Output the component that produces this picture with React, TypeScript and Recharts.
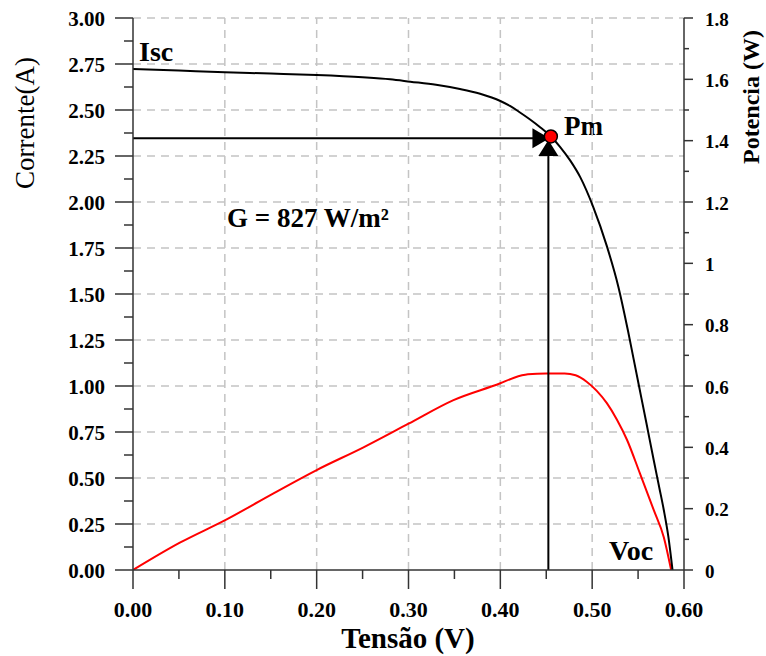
import { LineChart, Line, XAxis, YAxis, ReferenceLine, ReferenceDot } from "recharts";

const FONT = '"Liberation Serif", "Times New Roman", serif';
const AXIS = "#333";
const GRID = "#c4c4c4";

// curva I-V (corrente em A)
const ivCurve = [
  { v: 0, i: 2.723 },
  { v: 0.05, i: 2.714 },
  { v: 0.1, i: 2.705 },
  { v: 0.15, i: 2.698 },
  { v: 0.2, i: 2.69 },
  { v: 0.25, i: 2.678 },
  { v: 0.28, i: 2.667 },
  { v: 0.302, i: 2.654 },
  { v: 0.33, i: 2.637 },
  { v: 0.356, i: 2.614 },
  { v: 0.378, i: 2.588 },
  { v: 0.4, i: 2.549 },
  { v: 0.4105, i: 2.522 },
  { v: 0.421, i: 2.488 },
  { v: 0.432, i: 2.45 },
  { v: 0.443, i: 2.408 },
  { v: 0.455, i: 2.356 },
  { v: 0.465, i: 2.3 },
  { v: 0.476, i: 2.226 },
  { v: 0.487, i: 2.135 },
  { v: 0.501, i: 1.975 },
  { v: 0.516, i: 1.76 },
  { v: 0.5285, i: 1.54 },
  { v: 0.539, i: 1.3 },
  { v: 0.545, i: 1.15 },
  { v: 0.551, i: 1.0 },
  { v: 0.559, i: 0.8 },
  { v: 0.567, i: 0.598 },
  { v: 0.573, i: 0.45 },
  { v: 0.578, i: 0.326 },
  { v: 0.583, i: 0.18 },
  { v: 0.5875, i: 0 },
];

// curva de potencia (W, eixo direito)
const powerCurve = [
  { v: 0, p: 0 },
  { v: 0.051, p: 0.089 },
  { v: 0.102, p: 0.165 },
  { v: 0.153, p: 0.25 },
  { v: 0.2, p: 0.326 },
  { v: 0.251, p: 0.4 },
  { v: 0.3, p: 0.477 },
  { v: 0.349, p: 0.554 },
  { v: 0.4, p: 0.609 },
  { v: 0.415, p: 0.627 },
  { v: 0.43, p: 0.638 },
  { v: 0.45, p: 0.641 },
  { v: 0.47, p: 0.641 },
  { v: 0.482, p: 0.635 },
  { v: 0.494, p: 0.614 },
  { v: 0.505, p: 0.584 },
  { v: 0.516, p: 0.544 },
  { v: 0.527, p: 0.49 },
  { v: 0.538, p: 0.424 },
  { v: 0.552, p: 0.315 },
  { v: 0.567, p: 0.196 },
  { v: 0.578, p: 0.107 },
  { v: 0.586, p: 0 },
];

// ponto de maxima potencia
const pmV = 0.455;
const pmI = 2.356;
const pmLineI = 2.346;
const pmLineV = 0.4523;

const xTicks = [0, 0.05, 0.1, 0.15, 0.2, 0.25, 0.3, 0.35, 0.4, 0.45, 0.5, 0.55, 0.6];
const leftTicks = [
  0, 0.125, 0.25, 0.375, 0.5, 0.625, 0.75, 0.875, 1, 1.125, 1.25, 1.375, 1.5, 1.625, 1.75, 1.875,
  2, 2.125, 2.25, 2.375, 2.5, 2.625, 2.75, 2.875, 3,
];
const rightTicks = [0, 0.1, 0.2, 0.3, 0.4, 0.5, 0.6, 0.7, 0.8, 0.9, 1, 1.1, 1.2, 1.3, 1.4, 1.5, 1.6, 1.7, 1.8];
const gridX = [0.1, 0.2, 0.3, 0.4, 0.5];
const gridY = [0.25, 0.5, 0.75, 1, 1.25, 1.5, 1.75, 2, 2.25, 2.5, 2.75, 3];

const isStep = (v: number, n: number) => Math.abs(v * n - Math.round(v * n)) < 1e-6;

const bold = { fontFamily: FONT, fontWeight: 700, fill: "#000" };

function LeftTick({ x, y, payload }: any) {
  const v = payload.value;
  const major = isStep(v, 4);
  return (
    <g>
      <line x1={x - (major ? 18 : 9)} x2={x} y1={y} y2={y} stroke={AXIS} strokeWidth={1.5} />
      {major && (
        <text x={x - 28} y={y} dy="0.4em" textAnchor="end" {...bold} fontSize={21}>
          {v.toFixed(2)}
        </text>
      )}
    </g>
  );
}

function RightTick({ x, y, payload }: any) {
  const v = payload.value;
  const major = isStep(v, 5);
  return (
    <g>
      <line x1={x} x2={x + (major ? 9 : 5)} y1={y} y2={y} stroke={AXIS} strokeWidth={1.5} />
      {major && (
        <text x={x + 21} y={y} dy="0.4em" textAnchor="start" {...bold} fontSize={19}>
          {String(Number(v.toFixed(1)))}
        </text>
      )}
    </g>
  );
}

function BottomTick({ x, y, payload }: any) {
  const v = payload.value;
  const major = isStep(v, 10);
  return (
    <g>
      <line x1={x} x2={x} y1={y} y2={y + (major ? 19 : 9)} stroke={AXIS} strokeWidth={1.5} />
      {major && (
        <text x={x} y={y + 47} textAnchor="middle" {...bold} fontSize={22}>
          {v.toFixed(2)}
        </text>
      )}
    </g>
  );
}

function ArrowRight({ cx, cy }: any) {
  return <path d={`M${cx},${cy} L${cx - 17},${cy - 10} L${cx - 17},${cy + 10} Z`} fill="#000" />;
}

function ArrowUp({ cx, cy }: any) {
  return <path d={`M${cx},${cy} L${cx - 10},${cy + 16} L${cx + 10},${cy + 16} Z`} fill="#000" />;
}

export default function App() {
  return (
    <div style={{ position: "absolute", left: 0, top: 0, background: "#fff" }}>
      <LineChart width={766} height={656} margin={{ top: 18, right: 0, bottom: 0, left: 0 }}>
        <XAxis
          type="number"
          dataKey="v"
          domain={[0, 0.6]}
          ticks={xTicks}
          interval={0}
          height={86}
          tickSize={0}
          tickMargin={0}
          tickLine={false}
          axisLine={{ stroke: AXIS, strokeWidth: 1.5 }}
          tick={<BottomTick />}
          allowDataOverflow
        />
        <YAxis
          yAxisId="left"
          type="number"
          domain={[0, 3]}
          ticks={leftTicks}
          interval={0}
          width={133}
          tickSize={0}
          tickMargin={0}
          tickLine={false}
          axisLine={{ stroke: AXIS, strokeWidth: 1.5 }}
          tick={<LeftTick />}
          allowDataOverflow
        />
        <YAxis
          yAxisId="right"
          orientation="right"
          type="number"
          domain={[0, 1.8]}
          ticks={rightTicks}
          interval={0}
          width={82}
          tickSize={0}
          tickMargin={0}
          tickLine={false}
          axisLine={{ stroke: AXIS, strokeWidth: 1.5 }}
          tick={<RightTick />}
          allowDataOverflow
        />

        {gridY.map((g) => (
          <ReferenceLine key={`gy${g}`} yAxisId="left" y={g} stroke={GRID} strokeWidth={1.5} strokeDasharray="8 6" />
        ))}
        {gridX.map((g) => (
          <ReferenceLine key={`gx${g}`} yAxisId="left" x={g} stroke={GRID} strokeWidth={1.5} strokeDasharray="8 6" />
        ))}

        <Line
          yAxisId="right"
          data={powerCurve}
          dataKey="p"
          type="monotone"
          stroke="#ff0000"
          strokeWidth={2}
          dot={false}
          isAnimationActive={false}
        />
        <Line
          yAxisId="left"
          data={ivCurve}
          dataKey="i"
          type="monotone"
          stroke="#000"
          strokeWidth={2}
          dot={false}
          isAnimationActive={false}
        />

        <ReferenceLine
          yAxisId="left"
          segment={[{ x: 0, y: pmLineI }, { x: 0.44, y: pmLineI }]}
          stroke="#000"
          strokeWidth={2}
        />
        <ReferenceLine
          yAxisId="left"
          segment={[{ x: pmLineV, y: 0 }, { x: pmLineV, y: 2.25 }]}
          stroke="#000"
          strokeWidth={2}
        />
        <ReferenceDot yAxisId="left" x={0.4535} y={pmLineI} r={1} shape={<ArrowRight />} />
        <ReferenceDot yAxisId="left" x={pmLineV} y={2.337} r={1} shape={<ArrowUp />} />
        <ReferenceDot yAxisId="left" x={pmV} y={pmI} r={6.5} fill="#ff0000" stroke="#000" strokeWidth={1.5} />

        <text x={25} y={123} transform="rotate(-90 25 123)" textAnchor="middle" dominantBaseline="central"
          style={{ fontFamily: FONT, fontSize: 27, fill: "#000" }}>
          Corrente(A)
        </text>
        <text x={751} y={97} transform="rotate(-90 751 97)" textAnchor="middle" dominantBaseline="central"
          style={{ fontFamily: FONT, fontSize: 24, fontWeight: 700, fill: "#000" }}>
          Potencia (W)
        </text>
        <text x={408} y={648} textAnchor="middle" style={{ fontFamily: FONT, fontSize: 29, fontWeight: 700, fill: "#000" }}>
          Tensão (V)
        </text>
        <text x={139} y={61} style={{ fontFamily: FONT, fontSize: 28, fontWeight: 700, fill: "#000" }}>Isc</text>
        <text x={564} y={135} style={{ fontFamily: FONT, fontSize: 27, fontWeight: 700, fill: "#000" }}>Pm</text>
        <text x={609} y={560} style={{ fontFamily: FONT, fontSize: 28, fontWeight: 700, fill: "#000" }}>Voc</text>
        <text x={227} y={227} style={{ fontFamily: FONT, fontSize: 27, fontWeight: 700, fill: "#000" }}>
          G = 827 W/m²
        </text>
      </LineChart>
    </div>
  );
}
